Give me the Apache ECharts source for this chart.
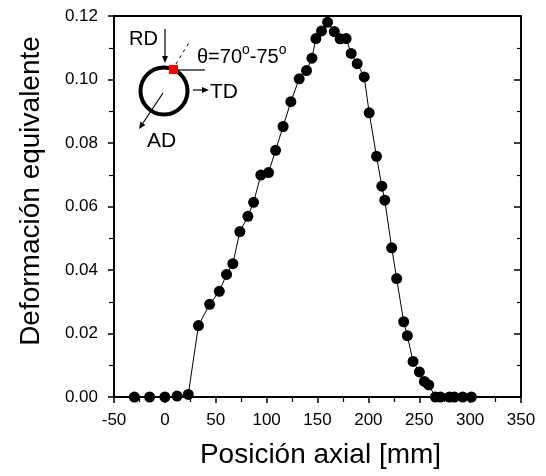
<!DOCTYPE html>
<html>
<head>
<meta charset="utf-8">
<script src="https://cdn.jsdelivr.net/npm/echarts@6/dist/echarts.min.js"></script>
<style>
  html, body { margin: 0; padding: 0; background: #fff; }
  #chart { width: 546px; height: 476px; }
</style>
</head>
<body>
<div id="chart"></div>
<script>
// axial position [mm] and equivalent strain
var posicion = [-30, -15, 0, 12, 23, 33, 44, 53.5, 60.6, 66.8, 73.7, 81.6, 87.2, 94.3, 101.9,
  108.8, 116.2, 123.8, 132, 139.2, 144.5, 148.4, 154, 159.9, 166.5, 172.2, 178.1, 183.1,
  189, 195.9, 200.8, 208, 213.2, 216.1, 222.9, 227.8, 234.7, 238.3, 243.9, 250.1, 255,
  259.3, 265.9, 270.8, 279.6, 284.5, 292.7, 301.2];
var deformacion = [0, 0, 0, 0.0003, 0.0008, 0.0225, 0.0292, 0.0333, 0.0386, 0.042, 0.0521,
  0.0569, 0.0613, 0.0699, 0.0707, 0.0777, 0.0852, 0.093, 0.1002, 0.1028, 0.1067, 0.1129,
  0.1153, 0.118, 0.1151, 0.1128, 0.1129, 0.1082, 0.105, 0.1008, 0.0895, 0.0758, 0.0664,
  0.062, 0.047, 0.0373, 0.0237, 0.0193, 0.0112, 0.0079, 0.0049, 0.0038, 0, 0, 0, 0, 0, 0];

var myChart = echarts.init(document.getElementById("chart"));
var font = "Liberation Sans, Arial, sans-serif";

var puntos = posicion.map(function (x, i) { return [x, deformacion[i]]; });

var lineaEje = { show: true, onZero: false, lineStyle: { color: "#000", width: 2 } };

// bottom/left: ticks pointing out; right: ticks pointing in; top: bare line
var ticksFuera = {
  axisTick: { show: true, inside: false, length: 6, lineStyle: { color: "#000", width: 1.5 } },
  minorTick: { show: true, splitNumber: 2, length: 5, lineStyle: { color: "#000", width: 1.2 } }
};
var ticksDentro = {
  axisTick: { show: true, inside: true, length: 7, lineStyle: { color: "#000", width: 1.5 } },
  minorTick: { show: true, splitNumber: 2, length: 4, lineStyle: { color: "#000", width: 1.2 } }
};

myChart.setOption({
  animation: false,
  backgroundColor: "#fff",
  grid: { left: 114, right: 25, top: 16, bottom: 79 },
  xAxis: [
    Object.assign({
      type: "value", min: -50, max: 350, interval: 50, position: "bottom",
      name: "Posición axial [mm]", nameLocation: "middle", nameGap: 44,
      nameTextStyle: { fontFamily: font, fontSize: 28, color: "#000", padding: [0, 0, 0, 6] },
      axisLine: lineaEje,
      splitLine: { show: false },
      axisLabel: { fontFamily: font, fontSize: 17, color: "#000", margin: 15 }
    }, ticksFuera),
    {
      type: "value", min: -50, max: 350, interval: 50, position: "top",
      axisLine: lineaEje, axisTick: { show: false }, splitLine: { show: false },
      axisLabel: { show: false }
    }
  ],
  yAxis: [
    Object.assign({
      type: "value", min: 0, max: 0.12, interval: 0.02, position: "left",
      axisLine: lineaEje,
      splitLine: { show: false },
      axisLabel: {
        fontFamily: font, fontSize: 17, color: "#000", margin: 16,
        formatter: function (v) { return v.toFixed(2); }
      }
    }, ticksFuera),
    Object.assign({
      type: "value", min: 0, max: 0.12, interval: 0.02, position: "right",
      axisLine: lineaEje, splitLine: { show: false },
      axisLabel: { show: false }
    }, ticksDentro)
  ],
  series: [{
    type: "line",
    data: puntos,
    symbol: "circle",
    symbolSize: 11,
    itemStyle: { color: "#000" },
    lineStyle: { color: "#000", width: 1 },
    z: 3
  }],
  graphic: [
    // y axis title, placed by hand because it sits above the plot centre
    { type: "text", x: 31, y: 191, rotation: Math.PI / 2,
      style: { text: "Deformación equivalente", fontFamily: font, fontSize: 28, fill: "#000",
        textAlign: "center", textVerticalAlign: "middle" } },
    // sample ring inset
    { type: "circle", shape: { cx: 164, cy: 91, r: 23.5 }, style: { fill: "none", stroke: "#000", lineWidth: 4 } },
    { type: "line", shape: { x1: 173, y1: 70, x2: 205, y2: 70 }, style: { stroke: "#000", lineWidth: 1.2 } },
    { type: "line", shape: { x1: 176, y1: 64, x2: 190, y2: 41 }, style: { stroke: "#000", lineWidth: 1, lineDash: [3, 4] } },
    { type: "rect", shape: { x: 169, y: 65, width: 9, height: 9 }, style: { fill: "#ff0000" } },
    // RD arrow
    { type: "line", shape: { x1: 165, y1: 29, x2: 165, y2: 58 }, style: { stroke: "#000", lineWidth: 1.2 } },
    { type: "polygon", shape: { points: [[162, 56], [168, 56], [165, 63]] }, style: { fill: "#000" } },
    { type: "text", style: { text: "RD", x: 129, y: 39, fontFamily: font, fontSize: 20, fill: "#000", textVerticalAlign: "middle" } },
    // TD arrow
    { type: "line", shape: { x1: 193, y1: 90, x2: 204, y2: 90 }, style: { stroke: "#000", lineWidth: 1.2 } },
    { type: "polygon", shape: { points: [[202, 87], [202, 93], [209, 90]] }, style: { fill: "#000" } },
    { type: "text", style: { text: "TD", x: 210, y: 92, fontFamily: font, fontSize: 21, fill: "#000", textVerticalAlign: "middle" } },
    // AD arrow
    { type: "line", shape: { x1: 163, y1: 93, x2: 143, y2: 123 }, style: { stroke: "#000", lineWidth: 1.2 } },
    { type: "polygon", shape: { points: [[145.4, 124.9], [140.4, 121.5], [139, 129]] }, style: { fill: "#000" } },
    { type: "text", style: { text: "AD", x: 147, y: 141, fontFamily: font, fontSize: 21, fill: "#000", textVerticalAlign: "middle" } },
    // angle label with raised "o" as in the original
    { type: "text", x: 197, y: 57,
      style: {
        text: "{a|θ=70}{s|o}{a|-75}{s|o}",
        textVerticalAlign: "middle",
        rich: {
          a: { fontFamily: font, fontSize: 20, fill: "#000", color: "#000", lineHeight: 22 },
          s: { fontFamily: font, fontSize: 14, fill: "#000", color: "#000", lineHeight: 22, padding: [0, 0, 14, 0] }
        }
      } }
  ]
});
</script>
</body>
</html>
